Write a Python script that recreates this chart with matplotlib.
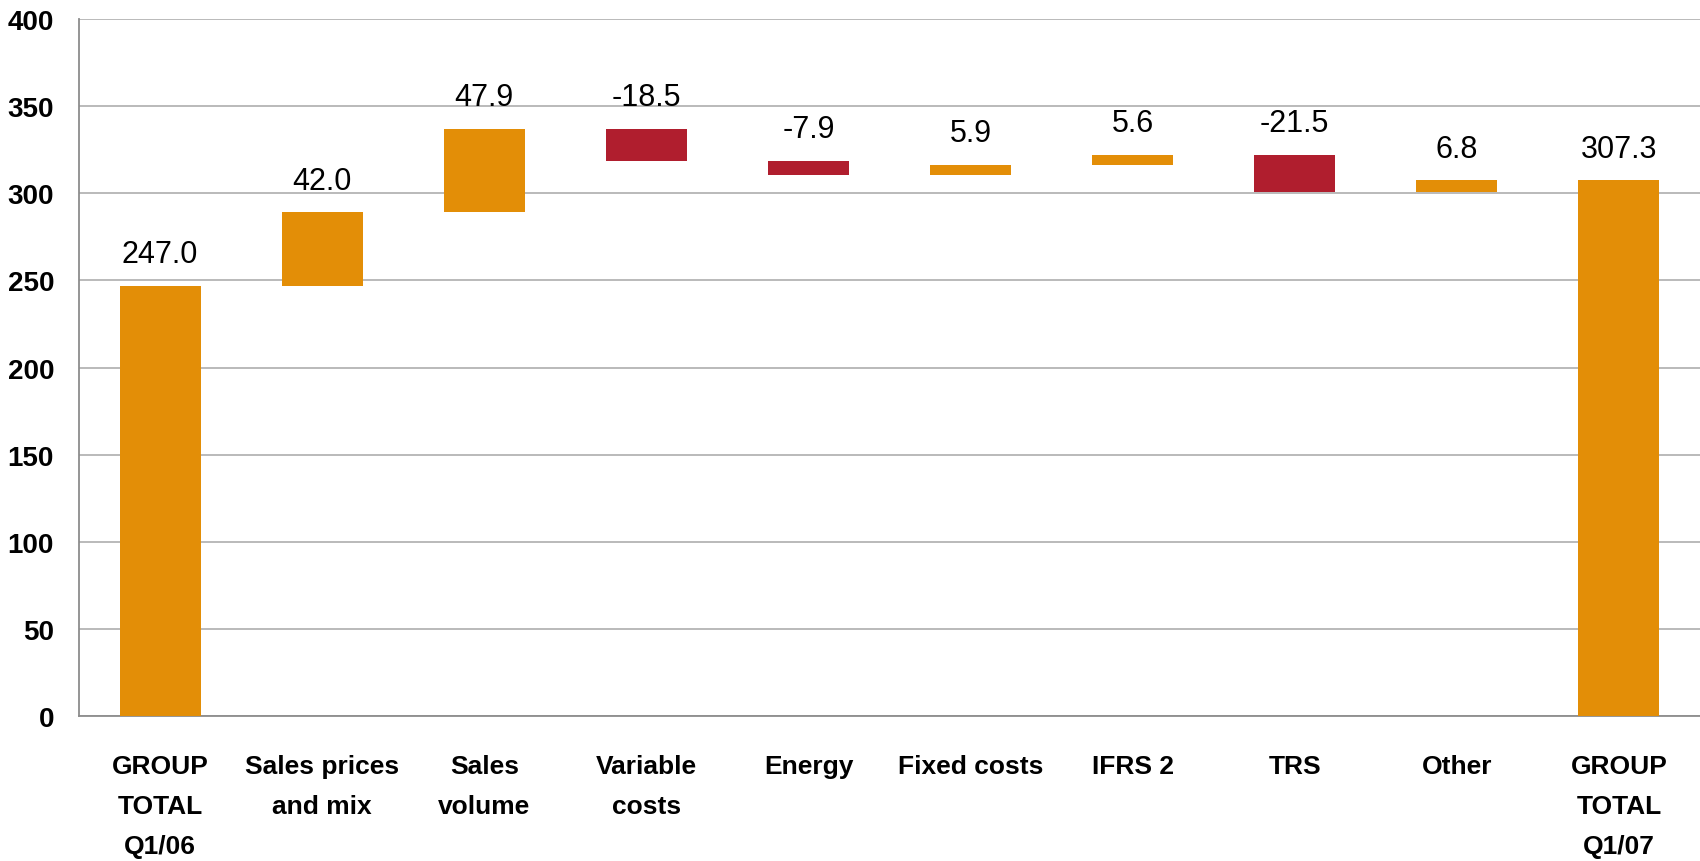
import matplotlib
matplotlib.use("Agg")
import numpy as np
from matplotlib import pyplot as plt

plt.rcParams['font.family'] = ['Liberation Sans', 'DejaVu Sans']

categories = ["GROUP\nTOTAL\nQ1/06", "Sales prices\nand mix", "Sales\nvolume", "Variable\ncosts",
              "Energy", "Fixed costs", "IFRS 2", "TRS", "Other", "GROUP\nTOTAL\nQ1/07"]
values = [247.0, 42.0, 47.9, -18.5, -7.9, 5.9, 5.6, -21.5, 6.8, 307.3]
is_total = [True, False, False, False, False, False, False, False, False, True]

orange = '#e38e07'
red = '#b01e2e'

# waterfall bottoms / heights
bottoms = []
heights = []
running = 0.0
for v, tot in zip(values, is_total):
    if tot:
        bottoms.append(0.0)
        heights.append(v)
        running = v
    else:
        if v >= 0:
            bottoms.append(running)
        else:
            bottoms.append(running + v)
        heights.append(abs(v))
        running += v

colors = [red if v < 0 else orange for v in values]
x = np.arange(len(categories))

fig, ax = plt.subplots(figsize=(17, 8.62), dpi=100)
fig.subplots_adjust(left=0.0465, right=1.0, top=0.977, bottom=0.168)

ax.bar(x, heights, bottom=bottoms, width=0.5, color=colors, zorder=3)

for xi, b, h, v in zip(x, bottoms, heights, values):
    ax.annotate("%.1f" % v, (xi, b + h), xytext=(0, 12), textcoords='offset points',
                ha='center', va='bottom', fontsize=22)

ax.set_xlim(-0.5, len(categories) - 0.5)
ax.set_ylim(0, 400)
ax.set_yticks(np.arange(0, 401, 50))
ax.set_xticks(x)
ax.set_xticklabels(categories, fontsize=19, fontweight='bold', linespacing=1.85)
ax.tick_params(axis='y', labelsize=20, length=0, pad=18)
for lab in ax.get_yticklabels():
    lab.set_fontweight('bold')
ax.tick_params(axis='x', length=0, pad=27)

ax.grid(axis='y', color='#b4b4b4', linewidth=1.3, zorder=0)
for s in ['top', 'right']:
    ax.spines[s].set_visible(False)
ax.spines['left'].set_color('#8c8c8c')
ax.spines['bottom'].set_color('#8c8c8c')
ax.spines['left'].set_linewidth(1.3)
ax.spines['bottom'].set_linewidth(1.3)

plt.savefig('out.png', dpi=100)
